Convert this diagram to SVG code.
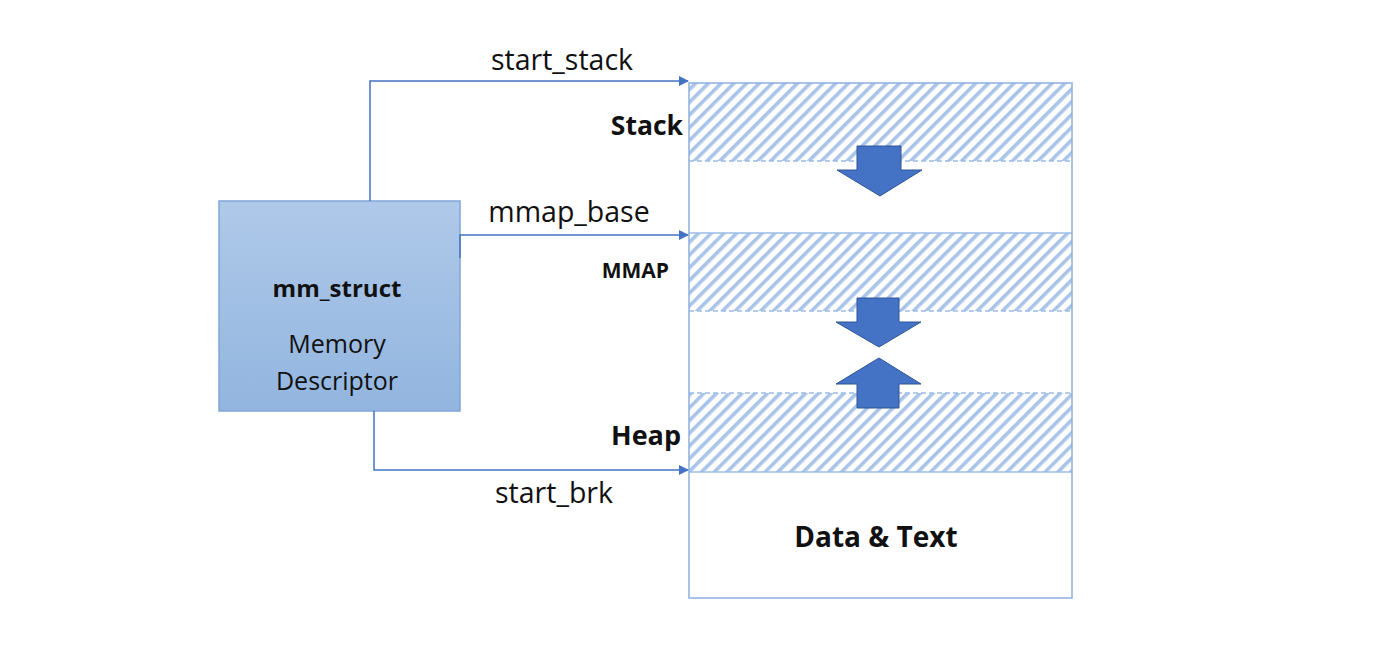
<svg xmlns="http://www.w3.org/2000/svg" width="1400" height="670" viewBox="0 0 1400 670">
<style>
.lbl{font-family:"Open Sans","Liberation Sans",sans-serif;font-size:25px;fill:#111}
.cl{font-size:28.5px}
.bold{font-weight:bold}
.conn{fill:none;stroke:#4472c4;stroke-width:1.5}
.blk{fill:#4472c4;stroke:#2f5597;stroke-width:1}
.hatch{fill:url(#hatch)}
.dash{stroke:#9dbce6;stroke-width:1.5;stroke-dasharray:5 3}
</style>
<defs>
<pattern id="hatch" patternUnits="userSpaceOnUse" width="9" height="9" patternTransform="rotate(45)">
<rect x="0" y="0" width="3.6" height="9" fill="#a9c4e8"/>
</pattern>
<linearGradient id="mmg" x1="0" y1="0" x2="0" y2="1">
<stop offset="0" stop-color="#afc9e9"/>
<stop offset="1" stop-color="#92b5df"/>
</linearGradient>
<marker id="ah" markerWidth="10" markerHeight="10" refX="9" refY="5" orient="auto" markerUnits="userSpaceOnUse">
<path d="M0,0 L10,5 L0,10 z" fill="#4472c4"/>
</marker>
</defs>
<rect width="1400" height="670" fill="#fff"/>

<g id="memory">
<rect x="689" y="83" width="383" height="78" class="hatch"/>
<rect x="689" y="233" width="383" height="78" class="hatch"/>
<rect x="689" y="393" width="383" height="79" class="hatch"/>
<line x1="689" y1="161" x2="1072" y2="161" class="dash"/>
<line x1="689" y1="311" x2="1072" y2="311" class="dash"/>
<line x1="689" y1="393" x2="1072" y2="393" class="dash"/>
<line x1="689" y1="233" x2="1072" y2="233" stroke="#9dbce6" stroke-width="1.5"/>
<line x1="689" y1="472" x2="1072" y2="472" stroke="#9dbce6" stroke-width="1.5"/>
<rect x="689" y="83" width="383" height="515" fill="none" stroke="#8db0e0" stroke-width="1.5"/>
</g>

<g id="arrow-stack-down">
<path class="blk" d="M857,146 L901,146 L901,170 L922,170 L880,196 L837,170 L857,170 z"/>
</g>
<g id="arrow-mmap-down">
<path class="blk" d="M857,298 L899,298 L899,322 L921,322 L879,347 L836,322 L857,322 z"/>
</g>
<g id="arrow-heap-up">
<path class="blk" d="M857,408 L899,408 L899,384 L921,384 L879,358 L836,384 L857,384 z"/>
</g>

<g id="labels">
<text class="lbl bold" x="683" y="135" text-anchor="end" style="font-size:26.5px">Stack</text>
<text class="lbl bold" x="669" y="278" text-anchor="end" style="font-size:21px">MMAP</text>
<text class="lbl bold" x="681" y="445" text-anchor="end" style="font-size:27px">Heap</text>
<text class="lbl bold" x="876" y="547" text-anchor="middle" style="font-size:28px">Data &amp; Text</text>
</g>

<g id="mm_struct">
<rect x="219" y="201" width="241" height="210" fill="url(#mmg)" stroke="#7fa6d8" stroke-width="1.5"/>
<text class="lbl bold" x="337" y="297" text-anchor="middle" style="font-size:24px">mm_struct</text>
<text class="lbl" x="337" y="353" text-anchor="middle">Memory</text>
<text class="lbl" x="337" y="390" text-anchor="middle">Descriptor</text>
</g>

<g id="connectors">
<path class="conn" d="M370,201 L370,81 L688,81" marker-end="url(#ah)"/>
<path class="conn" d="M460,258 L460,235 L688,235" marker-end="url(#ah)"/>
<path class="conn" d="M374,411 L374,470 L688,470" marker-end="url(#ah)"/>
<text class="lbl cl" x="562" y="70" text-anchor="middle">start_stack</text>
<text class="lbl cl" x="569" y="222" text-anchor="middle">mmap_base</text>
<text class="lbl cl" x="554" y="503" text-anchor="middle">start_brk</text>
</g>
</svg>
